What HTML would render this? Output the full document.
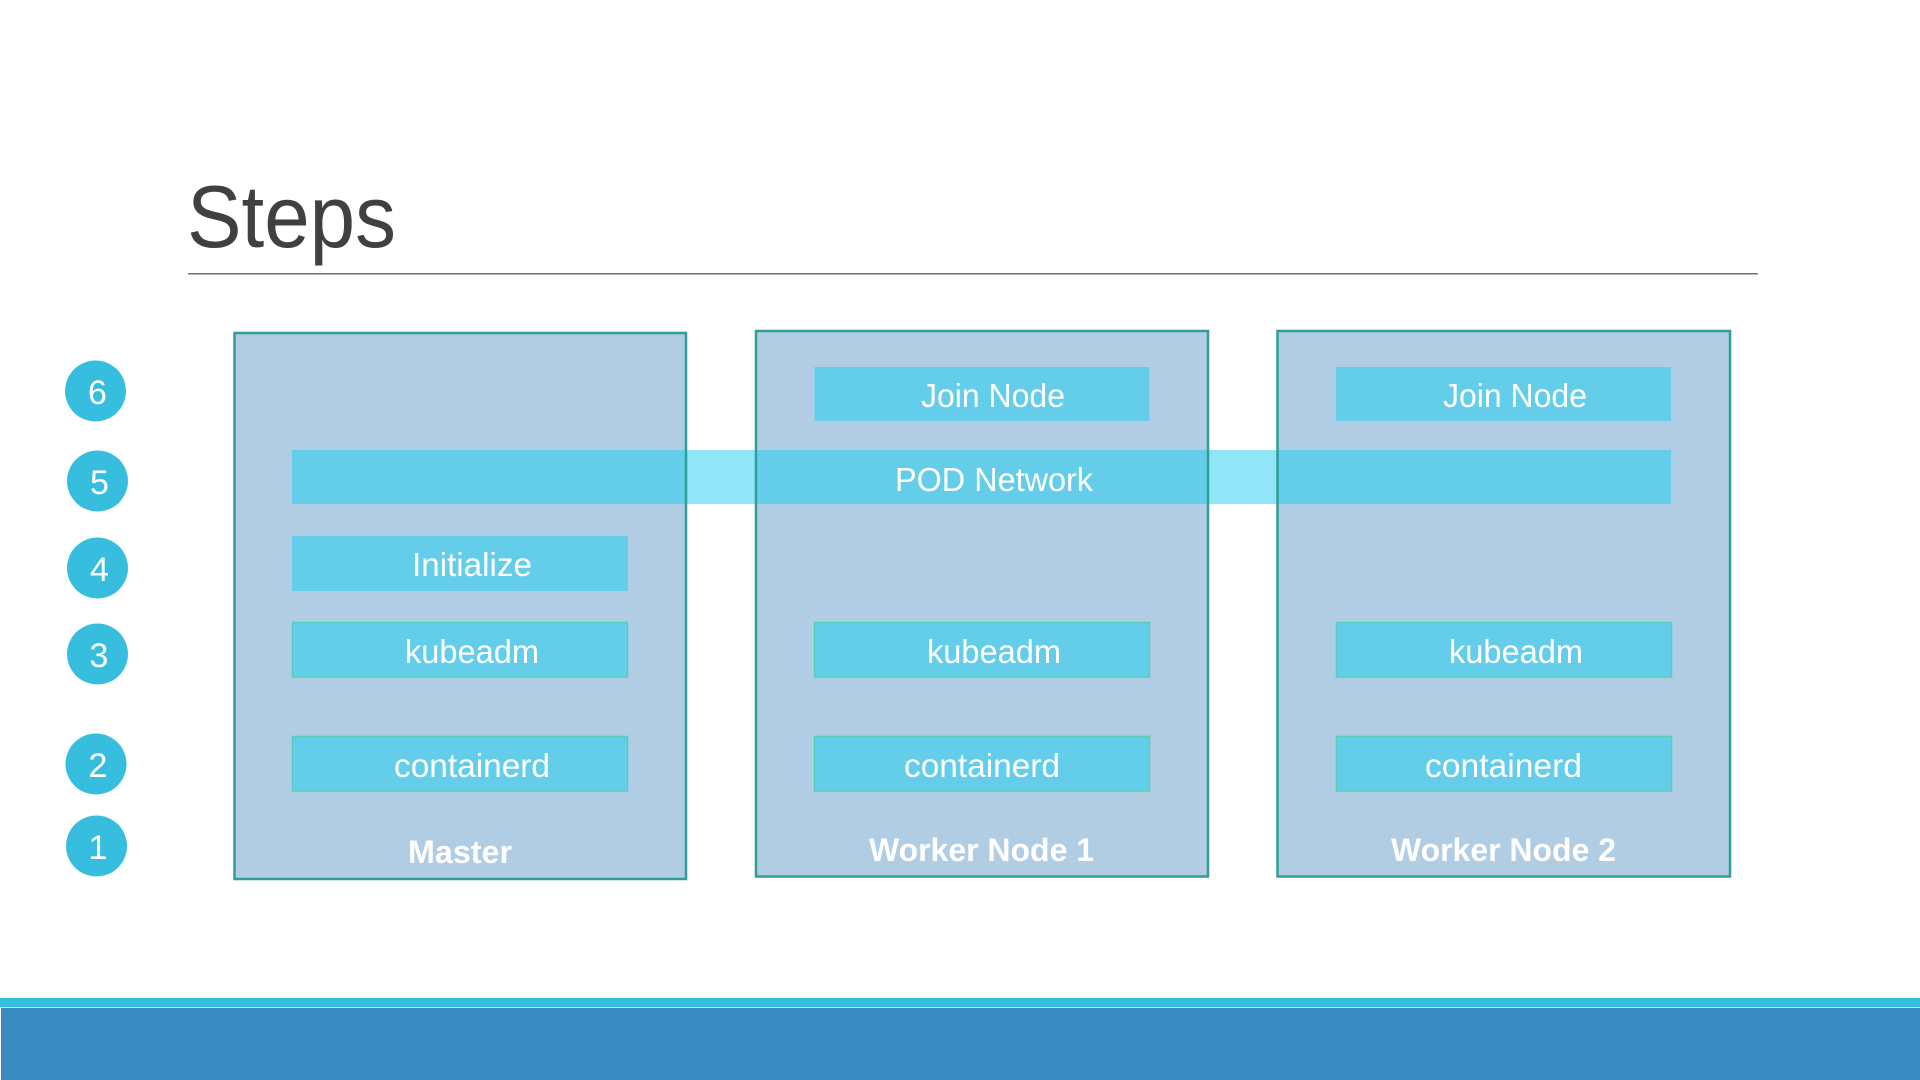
<!DOCTYPE html>
<html>
<head>
<meta charset="utf-8">
<title>Steps</title>
<style>
html,body{margin:0;padding:0;background:#fff;width:1920px;height:1080px;overflow:hidden}
svg{display:block}
text{font-family:"Liberation Sans",sans-serif}
.t{fill:#fff;font-size:33px}
.b{fill:#fff;font-size:32px;font-weight:bold}
.n{fill:#fff;font-size:34px;text-anchor:middle}
.box{fill:#B0CDE4}
.bd{fill:none;stroke:#2E9E96;stroke-width:2.5}
.c{fill:#64CEEA}
.g{fill:#64CEEA;stroke:#55D0B8;stroke-width:1.5}
.o{fill:#37BEDF}
</style>
</head>
<body>
<svg width="1920" height="1080" viewBox="0 0 1920 1080" xmlns="http://www.w3.org/2000/svg">
<rect width="1920" height="1080" fill="#fff"/>
<text x="187" y="247" font-size="88" fill="#404040" textLength="209" lengthAdjust="spacingAndGlyphs">Steps</text>
<rect x="188" y="273" width="1570" height="1.5" fill="#707070"/>

<rect x="292" y="450" width="1379" height="54" fill="#90E6F6"/>

<rect class="box" x="234.5" y="333" width="451.5" height="546"/>
<rect class="box" x="756" y="331" width="452" height="545.5"/>
<rect class="box" x="1277.5" y="331" width="452.5" height="545.5"/>

<rect class="c" x="292" y="450" width="394" height="54"/>
<rect class="c" x="756" y="450" width="452" height="54"/>
<rect class="c" x="1277.5" y="450" width="393.5" height="54"/>

<rect class="bd" x="234.5" y="333" width="451.5" height="546"/>
<rect class="bd" x="756" y="331" width="452" height="545.5"/>
<rect class="bd" x="1277.5" y="331" width="452.5" height="545.5"/>

<rect class="c" x="292" y="536" width="336" height="55"/>
<rect class="g" x="292.5" y="622.5" width="335" height="54.5"/>
<rect class="g" x="292.5" y="736.5" width="335" height="54.5"/>

<rect class="c" x="814.5" y="367" width="335" height="54"/>
<rect class="g" x="814.5" y="622.5" width="335" height="54.5"/>
<rect class="g" x="814.5" y="736.5" width="335" height="54.5"/>

<rect class="c" x="1336" y="367" width="335" height="54"/>
<rect class="g" x="1336.5" y="622.5" width="335" height="54.5"/>
<rect class="g" x="1336.5" y="736.5" width="335" height="54.5"/>

<text class="t" x="895" y="491" textLength="198" lengthAdjust="spacingAndGlyphs">POD Network</text>
<text class="t" x="412" y="576" textLength="120" lengthAdjust="spacingAndGlyphs">Initialize</text>
<text class="t" x="405" y="663" textLength="134" lengthAdjust="spacingAndGlyphs">kubeadm</text>
<text class="t" x="394" y="777" textLength="156" lengthAdjust="spacingAndGlyphs">containerd</text>
<text class="b" x="408" y="863" textLength="104" lengthAdjust="spacingAndGlyphs">Master</text>

<text class="t" x="921" y="407" textLength="144" lengthAdjust="spacingAndGlyphs">Join Node</text>
<text class="t" x="927" y="663" textLength="134" lengthAdjust="spacingAndGlyphs">kubeadm</text>
<text class="t" x="904" y="777" textLength="156" lengthAdjust="spacingAndGlyphs">containerd</text>
<text class="b" x="869" y="861" textLength="225" lengthAdjust="spacingAndGlyphs">Worker Node 1</text>

<text class="t" x="1443" y="407" textLength="144" lengthAdjust="spacingAndGlyphs">Join Node</text>
<text class="t" x="1449" y="663" textLength="134" lengthAdjust="spacingAndGlyphs">kubeadm</text>
<text class="t" x="1425" y="777" textLength="157" lengthAdjust="spacingAndGlyphs">containerd</text>
<text class="b" x="1391" y="861" textLength="225" lengthAdjust="spacingAndGlyphs">Worker Node 2</text>

<circle class="o" cx="95.5" cy="391" r="30.5"/>
<circle class="o" cx="97.5" cy="481" r="30.5"/>
<circle class="o" cx="97.5" cy="568" r="30.5"/>
<circle class="o" cx="97.5" cy="654" r="30.5"/>
<circle class="o" cx="96" cy="764" r="30.5"/>
<circle class="o" cx="96.5" cy="846" r="30.5"/>
<text class="n" x="97.5" y="404">6</text>
<text class="n" x="99.5" y="494">5</text>
<text class="n" x="99.5" y="581">4</text>
<text class="n" x="99" y="667">3</text>
<text class="n" x="98" y="777">2</text>
<text class="n" x="98" y="859">1</text>

<rect x="0" y="998" width="1920" height="9" fill="#33BFDE"/>
<rect x="0" y="1007" width="1920" height="1" fill="#CFEAF3"/>
<rect x="1" y="1008" width="1919" height="72" fill="#378BC1"/>
</svg>
</body>
</html>
